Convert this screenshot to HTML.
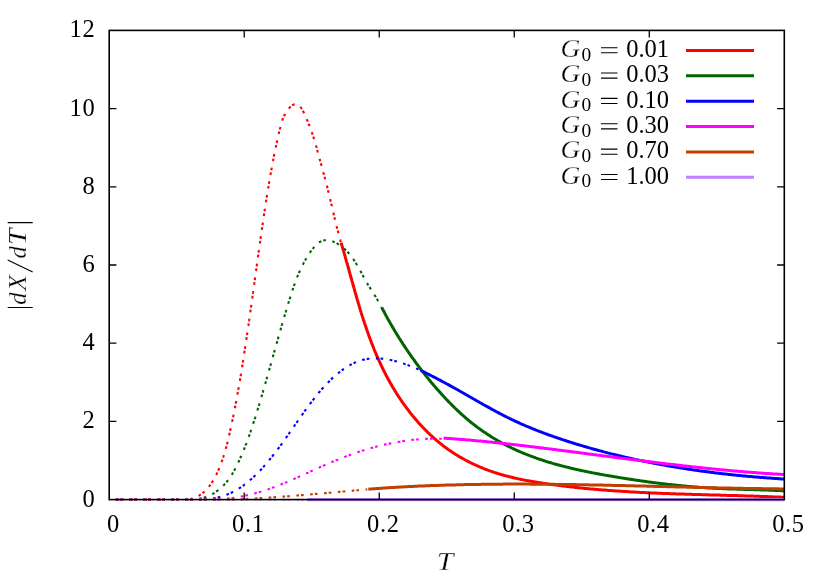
<!DOCTYPE html>
<html><head><meta charset="utf-8"><title>plot</title>
<style>html,body{margin:0;padding:0;background:#fff;}svg{display:block;will-change:transform;}text{font-family:"Liberation Serif",serif;fill:#000;}.it{stroke:#fff;stroke-width:0.28px;}</style></head><body>
<svg width="830" height="581" viewBox="0 0 830 581">
<rect x="0" y="0" width="830" height="581" fill="#ffffff"/>
<g fill="none" stroke-linejoin="round">
<path d="M109.2,499.6 L170.0,499.6 L189.9,499.2 L191.0,498.9 L192.0,498.6 L193.0,498.3 L194.0,498.0 L195.0,497.6 L195.9,497.2 L196.8,496.7 L197.7,496.3 L198.6,495.8 L199.5,495.3 L200.3,494.7 L201.1,494.2 L201.9,493.6 L202.7,493.0 L203.5,492.4 L204.2,491.7 L204.9,491.0 L205.6,490.4 L206.3,489.7 L207.0,488.9 L207.7,488.2 L208.3,487.4 L208.9,486.7 L209.5,485.9 L210.1,485.1 L210.7,484.3 L211.3,483.5 L211.8,482.6 L212.4,481.8 L212.9,480.9 L213.4,480.1 L213.9,479.2 L214.4,478.3 L214.9,477.4 L215.4,476.5 L215.8,475.6 L216.3,474.7 L216.7,473.8 L217.2,472.9 L217.6,472.0 L218.0,471.1 L218.4,470.1 L218.8,469.2 L219.2,468.3 L219.6,467.4 L219.9,466.4 L220.3,465.5 L220.7,464.6 L221.0,463.6 L221.4,462.7 L221.7,461.7 L222.1,460.8 L222.4,459.8 L222.7,458.9 L223.0,457.9 L223.3,457.0 L223.6,456.0 L223.9,455.1 L224.2,454.1 L224.5,453.2 L224.8,452.2 L225.1,451.2 L225.4,450.3 L225.6,449.3 L225.9,448.3 L226.2,447.4 L226.4,446.4 L226.7,445.4 L226.9,444.5 L227.2,443.5 L227.4,442.5 L227.7,441.5 L227.9,440.6 L228.1,439.6 L228.4,438.6 L228.6,437.6 L228.8,436.7 L229.1,435.7 L229.3,434.7 L229.5,433.7 L229.7,432.8 L230.0,431.8 L230.2,430.8 L230.4,429.8 L230.6,428.8 L230.8,427.9 L231.0,426.9 L231.2,425.9 L231.5,424.9 L231.7,423.9 L231.9,423.0 L232.1,422.0 L232.3,421.0 L232.5,420.0 L232.7,419.0 L232.9,418.1 L233.1,417.1 L233.3,416.1 L233.5,415.1 L233.7,414.1 L233.9,413.2 L234.1,412.2 L234.3,411.2 L234.5,410.2 L234.7,409.2 L234.9,408.2 L235.1,407.3 L235.3,406.3 L235.4,405.3 L235.6,404.3 L235.8,403.3 L236.0,402.3 L236.2,401.4 L236.4,400.4 L236.6,399.4 L236.7,398.4 L236.9,397.4 L237.1,396.4 L237.3,395.5 L237.5,394.5 L237.6,393.5 L237.8,392.5 L238.0,391.5 L238.2,390.5 L238.3,389.5 L238.5,388.6 L238.7,387.6 L238.9,386.6 L239.0,385.6 L239.2,384.6 L239.4,383.6 L239.5,382.6 L239.7,381.6 L239.9,380.7 L240.0,379.7 L240.2,378.7 L240.4,377.7 L240.5,376.7 L240.7,375.7 L240.9,374.7 L241.0,373.7 L241.2,372.8 L241.4,371.8 L241.5,370.8 L241.7,369.8 L241.8,368.8 L242.0,367.8 L242.2,366.8 L242.3,365.8 L242.5,364.8 L242.6,363.9 L242.8,362.9 L242.9,361.9 L243.1,360.9 L243.3,359.9 L243.4,358.9 L243.6,357.9 L243.7,356.9 L243.9,355.9 L244.0,354.9 L244.2,354.0 L244.3,353.0 L244.5,352.0 L244.6,351.0 L244.8,350.0 L244.9,349.0 L245.1,348.0 L245.2,347.0 L245.4,346.0 L245.5,345.0 L245.7,344.0 L245.8,343.1 L246.0,342.1 L246.1,341.1 L246.3,340.1 L246.4,339.1 L246.6,338.1 L246.7,337.1 L246.9,336.1 L247.0,335.1 L247.2,334.1 L247.3,333.1 L247.5,332.1 L247.6,331.2 L247.7,330.2 L247.9,329.2 L248.0,328.2 L248.2,327.2 L248.3,326.2 L248.5,325.2 L248.6,324.2 L248.7,323.2 L248.9,322.2 L249.0,321.2 L249.2,320.2 L249.3,319.2 L249.5,318.2 L249.6,317.3 L249.7,316.3 L249.9,315.3 L250.0,314.3 L250.2,313.3 L250.3,312.3 L250.4,311.3 L250.6,310.3 L250.7,309.3 L250.9,308.3 L251.0,307.3 L251.1,306.3 L251.3,305.3 L251.4,304.3 L251.6,303.4 L251.7,302.4 L251.8,301.4 L252.0,300.4 L252.1,299.4 L252.2,298.4 L252.4,297.4 L252.5,296.4 L252.7,295.4 L252.8,294.4 L252.9,293.4 L253.1,292.4 L253.2,291.4 L253.3,290.4 L253.5,289.4 L253.6,288.4 L253.8,287.5 L253.9,286.5 L254.0,285.5 L254.2,284.5 L254.3,283.5 L254.4,282.5 L254.6,281.5 L254.7,280.5 L254.9,279.5 L255.0,278.5 L255.1,277.5 L255.3,276.5 L255.4,275.5 L255.5,274.5 L255.7,273.5 L255.8,272.6 L255.9,271.6 L256.1,270.6 L256.2,269.6 L256.4,268.6 L256.5,267.6 L256.6,266.6 L256.8,265.6 L256.9,264.6 L257.0,263.6 L257.2,262.6 L257.3,261.6 L257.5,260.6 L257.6,259.6 L257.7,258.7 L257.9,257.7 L258.0,256.7 L258.1,255.7 L258.3,254.7 L258.4,253.7 L258.6,252.7 L258.7,251.7 L258.8,250.7 L259.0,249.7 L259.1,248.7 L259.3,247.7 L259.4,246.7 L259.5,245.8 L259.7,244.8 L259.8,243.8 L260.0,242.8 L260.1,241.8 L260.2,240.8 L260.4,239.8 L260.5,238.8 L260.7,237.8 L260.8,236.8 L260.9,235.8 L261.1,234.8 L261.2,233.9 L261.4,232.9 L261.5,231.9 L261.7,230.9 L261.8,229.9 L261.9,228.9 L262.1,227.9 L262.2,226.9 L262.4,225.9 L262.5,224.9 L262.7,224.0 L262.8,223.0 L263.0,222.0 L263.1,221.0 L263.2,220.0 L263.4,219.0 L263.5,218.0 L263.7,217.0 L263.8,216.0 L264.0,215.0 L264.1,214.1 L264.3,213.1 L264.4,212.1 L264.6,211.1 L264.7,210.1 L264.9,209.1 L265.0,208.1 L265.2,207.1 L265.3,206.1 L265.5,205.2 L265.6,204.2 L265.8,203.2 L265.9,202.2 L266.1,201.2 L266.2,200.2 L266.4,199.2 L266.6,198.2 L266.7,197.3 L266.9,196.3 L267.0,195.3 L267.2,194.3 L267.3,193.3 L267.5,192.3 L267.7,191.3 L267.8,190.3 L268.0,189.4 L268.2,188.4 L268.3,187.4 L268.5,186.4 L268.6,185.4 L268.8,184.4 L269.0,183.4 L269.1,182.5 L269.3,181.5 L269.5,180.5 L269.6,179.5 L269.8,178.5 L270.0,177.5 L270.2,176.5 L270.3,175.5 L270.5,174.6 L270.7,173.6 L270.9,172.6 L271.0,171.6 L271.2,170.6 L271.4,169.6 L271.6,168.6 L271.8,167.7 L271.9,166.7 L272.1,165.7 L272.3,164.7 L272.5,163.7 L272.7,162.7 L272.9,161.7 L273.1,160.7 L273.2,159.8 L273.4,158.8 L273.6,157.8 L273.8,156.8 L274.0,155.8 L274.2,154.8 L274.4,153.8 L274.6,152.9 L274.8,151.9 L275.0,150.9 L275.2,149.9 L275.4,148.9 L275.6,147.9 L275.8,146.9 L276.0,145.9 L276.2,145.0 L276.5,144.0 L276.7,143.0 L276.9,142.0 L277.1,141.0 L277.3,140.0 L277.5,139.0 L277.8,138.0 L278.0,137.0 L278.2,136.1 L278.4,135.1 L278.6,134.1 L278.9,133.1 L279.1,132.1 L279.3,131.1 L279.6,130.1 L279.8,129.1 L280.0,128.2 L280.3,127.2 L280.5,126.2 L280.8,125.2 L281.1,124.2 L281.4,123.3 L281.7,122.3 L282.0,121.4 L282.3,120.4 L282.6,119.5 L283.0,118.5 L283.4,117.6 L283.8,116.7 L284.2,115.8 L284.6,114.9 L285.1,114.0 L285.5,113.1 L286.0,112.3 L286.6,111.4 L287.1,110.6 L287.7,109.8 L288.3,109.0 L289.0,108.2 L289.7,107.5 L290.4,106.7 L291.1,106.1 L291.9,105.5 L292.7,105.0 L293.5,104.6 L294.3,104.4 L295.1,104.3 L295.9,104.3 L296.7,104.5 L297.5,104.7 L298.3,105.1 L299.0,105.6 L299.7,106.2 L300.3,106.9 L301.0,107.7 L301.5,108.5 L302.1,109.4 L302.6,110.4 L303.1,111.3 L303.6,112.3 L304.1,113.3 L304.6,114.3 L305.1,115.3 L305.5,116.3 L306.0,117.3 L306.4,118.3 L306.8,119.2 L307.2,120.2 L307.7,121.2 L308.1,122.2 L308.4,123.1 L308.8,124.1 L309.2,125.0 L309.6,126.0 L309.9,127.0 L310.3,127.9 L310.6,128.9 L311.0,129.8 L311.3,130.8 L311.7,131.7 L312.0,132.7 L312.3,133.6 L312.6,134.6 L312.9,135.5 L313.2,136.4 L313.5,137.4 L313.8,138.3 L314.1,139.3 L314.4,140.2 L314.7,141.1 L315.0,142.1 L315.2,143.0 L315.5,144.0 L315.8,144.9 L316.1,145.8 L316.3,146.8 L316.6,147.7 L316.9,148.7 L317.1,149.6 L317.4,150.5 L317.6,151.5 L317.9,152.4 L318.2,153.4 L318.4,154.3 L318.7,155.3 L318.9,156.2 L319.2,157.2 L319.5,158.2 L319.7,159.1 L320.0,160.1 L320.2,161.0 L320.5,162.0 L320.8,163.0 L321.0,163.9 L321.3,164.9 L321.6,165.9 L321.8,166.8 L322.1,167.8 L322.4,168.8 L322.6,169.8 L322.9,170.8 L323.2,171.7 L323.4,172.7 L323.7,173.7 L324.0,174.7 L324.2,175.6 L324.5,176.6 L324.8,177.6 L325.0,178.6 L325.3,179.6 L325.5,180.6 L325.8,181.5 L326.1,182.5 L326.3,183.5 L326.6,184.5 L326.8,185.5 L327.1,186.4 L327.3,187.4 L327.5,188.4 L327.8,189.4 L328.0,190.3 L328.3,191.3 L328.5,192.3 L328.7,193.3 L329.0,194.3 L329.2,195.2 L329.5,196.2 L329.7,197.2 L329.9,198.1 L330.2,199.1 L330.4,200.1 L330.6,201.1 L330.8,202.0 L331.1,203.0 L331.3,204.0 L331.5,204.9 L331.8,205.9 L332.0,206.9 L332.2,207.9 L332.4,208.8 L332.7,209.8 L332.9,210.8 L333.1,211.7 L333.4,212.7 L333.6,213.7 L333.8,214.6 L334.0,215.6 L334.3,216.6 L334.5,217.5 L334.7,218.5 L335.0,219.5 L335.2,220.5 L335.4,221.4 L335.7,222.4 L335.9,223.4 L336.2,224.3 L336.4,225.3 L336.6,226.3 L336.9,227.2 L337.1,228.2 L337.4,229.2 L337.6,230.2 L337.9,231.1 L338.1,232.1 L338.4,233.1 L338.6,234.0 L338.9,235.0 L339.2,236.0 L339.4,237.0 L339.7,237.9 L340.0,238.9 L340.2,239.9 L340.5,240.9 L340.8,241.8 L341.1,242.8" stroke="#ff0000" stroke-width="2.1" stroke-dasharray="2.7 2.0 2.7 6.5" stroke-dashoffset="7.3"/>
<path d="M341.1,242.8 L341.4,243.7 L341.7,244.7 L342.0,245.7 L342.3,246.6 L342.6,247.6 L342.8,248.5 L343.1,249.5 L343.4,250.5 L343.7,251.4 L344.0,252.4 L344.2,253.4 L344.5,254.3 L344.8,255.3 L345.1,256.3 L345.3,257.2 L345.6,258.2 L345.9,259.2 L346.2,260.1 L346.4,261.1 L346.7,262.1 L347.0,263.0 L347.3,264.0 L347.5,264.9 L347.8,265.9 L348.1,266.9 L348.3,267.8 L348.6,268.8 L348.9,269.8 L349.1,270.7 L349.4,271.7 L349.7,272.7 L349.9,273.6 L350.2,274.6 L350.5,275.6 L350.7,276.5 L351.0,277.5 L351.3,278.5 L351.6,279.4 L351.8,280.4 L352.1,281.4 L352.4,282.3 L352.6,283.3 L352.9,284.3 L353.2,285.2 L353.4,286.2 L353.7,287.1 L354.0,288.1 L354.3,289.1 L354.5,290.0 L354.8,291.0 L355.1,292.0 L355.4,292.9 L355.6,293.9 L355.9,294.8 L356.2,295.8 L356.5,296.8 L356.7,297.7 L357.0,298.7 L357.3,299.7 L357.6,300.6 L357.9,301.6 L358.1,302.5 L358.4,303.5 L358.7,304.4 L359.0,305.4 L359.3,306.4 L359.6,307.3 L359.9,308.3 L360.1,309.2 L360.4,310.2 L360.7,311.1 L361.0,312.1 L361.3,313.1 L361.6,314.0 L361.9,315.0 L362.2,315.9 L362.5,316.9 L362.8,317.8 L363.1,318.8 L363.4,319.7 L363.7,320.7 L364.1,321.6 L364.4,322.6 L364.7,323.5 L365.0,324.5 L365.3,325.4 L365.6,326.4 L366.0,327.3 L366.3,328.2 L366.6,329.2 L366.9,330.1 L367.3,331.1 L367.6,332.0 L367.9,333.0 L368.3,333.9 L368.6,334.8 L368.9,335.8 L369.3,336.7 L369.6,337.7 L370.0,338.6 L370.3,339.5 L370.7,340.5 L371.0,341.4 L371.4,342.3 L371.7,343.3 L372.1,344.2 L372.5,345.1 L372.8,346.1 L373.2,347.0 L373.6,347.9 L373.9,348.8 L374.3,349.8 L374.7,350.7 L375.1,351.6 L375.5,352.5 L375.9,353.5 L376.2,354.4 L376.6,355.3 L377.0,356.2 L377.4,357.1 L377.8,358.1 L378.3,359.0 L378.7,359.9 L379.1,360.8 L379.5,361.7 L379.9,362.6 L380.3,363.5 L380.8,364.5 L381.2,365.4 L381.6,366.3 L382.1,367.2 L382.5,368.1 L382.9,369.0 L383.4,369.9 L383.8,370.8 L384.3,371.7 L384.8,372.6 L385.2,373.5 L385.7,374.4 L386.1,375.3 L386.6,376.2 L387.1,377.1 L387.6,378.0 L388.0,378.8 L388.5,379.7 L389.0,380.6 L389.5,381.5 L390.0,382.4 L390.5,383.3 L391.0,384.1 L391.5,385.0 L392.0,385.9 L392.5,386.8 L393.0,387.6 L393.6,388.5 L394.1,389.4 L394.6,390.2 L395.1,391.1 L395.7,392.0 L396.2,392.8 L396.8,393.7 L397.3,394.5 L397.8,395.4 L398.4,396.2 L398.9,397.1 L399.5,397.9 L400.1,398.7 L400.6,399.6 L401.2,400.4 L401.8,401.3 L402.3,402.1 L402.9,402.9 L403.5,403.7 L404.1,404.6 L404.7,405.4 L405.3,406.2 L405.9,407.0 L406.5,407.8 L407.1,408.6 L407.7,409.4 L408.3,410.2 L408.9,411.0 L409.5,411.8 L410.1,412.6 L410.7,413.4 L411.4,414.2 L412.0,415.0 L412.6,415.8 L413.3,416.6 L413.9,417.3 L414.6,418.1 L415.2,418.9 L415.9,419.6 L416.5,420.4 L417.2,421.1 L417.8,421.9 L418.5,422.6 L419.2,423.4 L419.8,424.1 L420.5,424.9 L421.2,425.6 L421.9,426.3 L422.6,427.1 L423.3,427.8 L424.0,428.5 L424.6,429.2 L425.4,429.9 L426.1,430.7 L426.8,431.4 L427.5,432.1 L428.2,432.8 L428.9,433.4 L429.6,434.1 L430.4,434.8 L431.1,435.5 L431.8,436.2 L432.6,436.8 L433.3,437.5 L434.0,438.2 L434.8,438.8 L435.5,439.5 L436.3,440.1 L437.1,440.8 L437.8,441.4 L438.6,442.1 L439.3,442.7 L440.1,443.3 L440.9,443.9 L441.7,444.5 L442.5,445.2 L443.2,445.8 L444.0,446.4 L444.8,447.0 L445.6,447.6 L446.4,448.1 L447.2,448.7 L448.0,449.3 L448.9,449.9 L449.7,450.4 L450.5,451.0 L451.3,451.6 L452.1,452.1 L453.0,452.7 L453.8,453.2 L454.6,453.7 L455.5,454.3 L456.3,454.8 L457.2,455.3 L458.0,455.8 L458.9,456.4 L459.7,456.9 L460.6,457.4 L461.5,457.9 L462.3,458.3 L463.2,458.8 L464.1,459.3 L464.9,459.8 L465.8,460.3 L466.7,460.7 L467.6,461.2 L468.5,461.6 L469.4,462.1 L470.2,462.5 L471.1,463.0 L472.0,463.4 L472.9,463.8 L473.8,464.3 L474.8,464.7 L475.7,465.1 L476.6,465.5 L477.5,465.9 L478.4,466.3 L479.3,466.7 L480.2,467.1 L481.2,467.5 L482.1,467.9 L483.0,468.2 L483.9,468.6 L484.9,469.0 L485.8,469.3 L486.7,469.7 L487.7,470.1 L488.6,470.4 L489.6,470.7 L490.5,471.1 L491.4,471.4 L492.4,471.7 L493.3,472.1 L494.3,472.4 L495.2,472.7 L496.2,473.0 L497.1,473.3 L498.1,473.6 L499.1,473.9 L500.0,474.2 L501.0,474.5 L501.9,474.7 L502.9,475.0 L503.9,475.3 L504.8,475.6 L505.8,475.8 L506.8,476.1 L507.7,476.3 L508.7,476.6 L509.7,476.8 L510.7,477.1 L511.6,477.3 L512.6,477.5 L513.6,477.8 L514.6,478.0 L515.6,478.2 L516.5,478.4 L517.5,478.6 L518.5,478.9 L519.5,479.1 L520.5,479.3 L521.4,479.5 L522.4,479.7 L523.4,479.9 L524.4,480.1 L525.4,480.3 L526.4,480.4 L527.4,480.6 L528.4,480.8 L529.4,481.0 L530.3,481.2 L531.3,481.3 L532.3,481.5 L533.3,481.7 L534.3,481.8 L535.3,482.0 L536.3,482.2 L537.3,482.3 L538.3,482.5 L539.3,482.7 L540.3,482.8 L541.3,483.0 L542.3,483.1 L543.3,483.3 L544.3,483.4 L545.3,483.6 L546.3,483.7 L547.2,483.9 L548.2,484.0 L549.2,484.1 L550.2,484.3 L551.2,484.4 L552.2,484.6 L553.2,484.7 L554.2,484.8 L555.2,485.0 L556.2,485.1 L557.2,485.2 L558.2,485.4 L559.2,485.5 L560.2,485.6 L561.2,485.7 L562.2,485.9 L563.2,486.0 L564.2,486.1 L565.2,486.2 L566.2,486.3 L567.2,486.5 L568.2,486.6 L569.2,486.7 L570.2,486.8 L571.2,486.9 L572.2,487.0 L573.2,487.1 L574.2,487.3 L575.2,487.4 L576.2,487.5 L577.1,487.6 L578.1,487.7 L579.1,487.8 L580.1,487.9 L581.1,488.0 L582.1,488.1 L583.1,488.2 L584.1,488.3 L585.1,488.4 L586.1,488.5 L587.1,488.6 L588.1,488.7 L589.1,488.8 L590.1,488.9 L591.1,489.0 L592.1,489.1 L593.1,489.1 L594.1,489.2 L595.1,489.3 L596.1,489.4 L597.1,489.5 L598.1,489.6 L599.1,489.7 L600.1,489.7 L601.1,489.8 L602.1,489.9 L603.1,490.0 L604.1,490.1 L605.1,490.1 L606.1,490.2 L607.1,490.3 L608.1,490.4 L609.1,490.4 L610.1,490.5 L611.1,490.6 L612.1,490.7 L613.1,490.7 L614.1,490.8 L615.1,490.9 L616.1,490.9 L617.1,491.0 L618.1,491.1 L619.1,491.1 L620.1,491.2 L621.1,491.3 L622.1,491.3 L623.1,491.4 L624.1,491.5 L625.1,491.5 L626.1,491.6 L627.1,491.6 L628.1,491.7 L629.1,491.8 L630.1,491.8 L631.1,491.9 L632.1,491.9 L633.1,492.0 L634.1,492.1 L635.1,492.1 L636.1,492.2 L637.1,492.2 L638.1,492.3 L639.1,492.3 L640.1,492.4 L641.1,492.4 L642.1,492.5 L643.1,492.5 L644.1,492.6 L645.1,492.6 L646.1,492.7 L647.1,492.7 L648.1,492.8 L649.1,492.8 L650.1,492.9 L651.1,492.9 L652.1,492.9 L653.1,493.0 L654.1,493.0 L655.1,493.1 L656.1,493.1 L657.1,493.2 L658.1,493.2 L659.1,493.2 L660.1,493.3 L661.1,493.3 L662.1,493.4 L663.1,493.4 L664.1,493.4 L665.1,493.5 L666.1,493.5 L667.1,493.5 L668.1,493.6 L669.1,493.6 L670.1,493.7 L671.1,493.7 L672.1,493.7 L673.1,493.8 L674.1,493.8 L675.1,493.8 L676.1,493.9 L677.1,493.9 L678.1,493.9 L679.1,494.0 L680.1,494.0 L681.1,494.0 L682.1,494.1 L683.1,494.1 L684.1,494.1 L685.1,494.2 L686.1,494.2 L687.1,494.2 L688.1,494.3 L689.1,494.3 L690.1,494.3 L691.1,494.3 L692.1,494.4 L693.1,494.4 L694.1,494.4 L695.1,494.5 L696.1,494.5 L697.1,494.5 L698.1,494.6 L699.1,494.6 L700.1,494.6 L701.1,494.6 L702.1,494.7 L703.1,494.7 L704.1,494.7 L705.1,494.8 L706.1,494.8 L707.1,494.8 L708.1,494.8 L709.1,494.9 L710.1,494.9 L711.1,494.9 L712.1,494.9 L713.2,495.0 L714.2,495.0 L715.2,495.0 L716.2,495.1 L717.2,495.1 L718.2,495.1 L719.2,495.1 L720.2,495.2 L721.2,495.2 L722.2,495.2 L723.2,495.2 L724.2,495.3 L725.2,495.3 L726.2,495.3 L727.2,495.4 L728.2,495.4 L729.2,495.4 L730.2,495.4 L731.2,495.5 L732.2,495.5 L733.2,495.5 L734.2,495.6 L735.2,495.6 L736.2,495.6 L737.2,495.6 L738.2,495.7 L739.2,495.7 L740.2,495.7 L741.2,495.8 L742.2,495.8 L743.2,495.8 L744.2,495.8 L745.2,495.9 L746.2,495.9 L747.2,495.9 L748.2,496.0 L749.2,496.0 L750.2,496.0 L751.2,496.1 L752.2,496.1 L753.2,496.1 L754.2,496.2 L755.2,496.2 L756.2,496.2 L757.2,496.3 L758.2,496.3 L759.2,496.3 L760.2,496.4 L761.2,496.4 L762.2,496.4 L763.3,496.5 L764.3,496.5 L765.3,496.5 L766.3,496.6 L767.3,496.6 L768.3,496.7 L769.3,496.7 L770.3,496.7 L771.3,496.8 L772.3,496.8 L773.3,496.9 L774.3,496.9 L775.3,496.9 L776.3,497.0 L777.3,497.0 L778.3,497.1 L779.3,497.1 L780.3,497.1 L781.3,497.2 L782.3,497.2 L783.3,497.3 L784.3,497.3" stroke="#ff0000" stroke-width="3.0" stroke-linecap="butt"/>
<path d="M109.2,499.6 L175.0,499.6 L195.0,499.2 L196.0,499.1 L197.0,499.0 L198.0,498.9 L199.0,498.7 L200.0,498.6 L201.0,498.4 L202.0,498.1 L203.0,497.9 L204.0,497.6 L204.9,497.3 L205.9,497.0 L206.8,496.6 L207.8,496.3 L208.7,495.9 L209.6,495.5 L210.5,495.0 L211.4,494.6 L212.3,494.1 L213.1,493.6 L214.0,493.1 L214.8,492.6 L215.7,492.0 L216.5,491.4 L217.3,490.8 L218.1,490.2 L218.9,489.6 L219.7,489.0 L220.4,488.3 L221.2,487.7 L221.9,487.0 L222.6,486.3 L223.3,485.6 L224.0,484.9 L224.7,484.1 L225.4,483.4 L226.0,482.6 L226.7,481.9 L227.3,481.1 L227.9,480.3 L228.5,479.5 L229.1,478.7 L229.7,477.9 L230.2,477.1 L230.8,476.2 L231.3,475.4 L231.9,474.6 L232.4,473.7 L232.9,472.8 L233.4,472.0 L233.9,471.1 L234.4,470.2 L234.9,469.3 L235.4,468.5 L235.8,467.6 L236.3,466.7 L236.7,465.8 L237.2,464.9 L237.6,463.9 L238.0,463.0 L238.5,462.1 L238.9,461.2 L239.3,460.3 L239.7,459.4 L240.1,458.4 L240.5,457.5 L241.0,456.6 L241.4,455.7 L241.7,454.7 L242.1,453.8 L242.5,452.9 L242.9,452.0 L243.3,451.0 L243.7,450.1 L244.1,449.2 L244.4,448.2 L244.8,447.3 L245.2,446.4 L245.5,445.4 L245.9,444.5 L246.3,443.6 L246.6,442.6 L247.0,441.7 L247.3,440.7 L247.7,439.8 L248.0,438.9 L248.4,437.9 L248.7,437.0 L249.0,436.0 L249.4,435.1 L249.7,434.1 L250.0,433.2 L250.4,432.2 L250.7,431.3 L251.0,430.3 L251.3,429.4 L251.7,428.4 L252.0,427.5 L252.3,426.5 L252.6,425.6 L252.9,424.6 L253.2,423.7 L253.5,422.7 L253.8,421.8 L254.2,420.8 L254.5,419.9 L254.8,418.9 L255.1,418.0 L255.4,417.0 L255.7,416.1 L256.0,415.1 L256.3,414.1 L256.6,413.2 L256.9,412.2 L257.1,411.3 L257.4,410.3 L257.7,409.4 L258.0,408.4 L258.3,407.4 L258.6,406.5 L258.9,405.5 L259.2,404.6 L259.5,403.6 L259.8,402.6 L260.0,401.7 L260.3,400.7 L260.6,399.8 L260.9,398.8 L261.2,397.8 L261.5,396.9 L261.7,395.9 L262.0,395.0 L262.3,394.0 L262.6,393.0 L262.9,392.1 L263.1,391.1 L263.4,390.1 L263.7,389.2 L264.0,388.2 L264.3,387.3 L264.5,386.3 L264.8,385.3 L265.1,384.4 L265.4,383.4 L265.6,382.4 L265.9,381.5 L266.2,380.5 L266.5,379.6 L266.7,378.6 L267.0,377.6 L267.3,376.7 L267.6,375.7 L267.8,374.7 L268.1,373.8 L268.4,372.8 L268.7,371.8 L268.9,370.9 L269.2,369.9 L269.5,368.9 L269.7,368.0 L270.0,367.0 L270.3,366.0 L270.6,365.1 L270.8,364.1 L271.1,363.2 L271.4,362.2 L271.6,361.2 L271.9,360.3 L272.2,359.3 L272.5,358.3 L272.7,357.4 L273.0,356.4 L273.3,355.4 L273.5,354.5 L273.8,353.5 L274.1,352.5 L274.4,351.6 L274.6,350.6 L274.9,349.6 L275.2,348.7 L275.4,347.7 L275.7,346.7 L276.0,345.8 L276.3,344.8 L276.5,343.8 L276.8,342.9 L277.1,341.9 L277.3,341.0 L277.6,340.0 L277.9,339.0 L278.2,338.1 L278.4,337.1 L278.7,336.1 L279.0,335.2 L279.3,334.2 L279.5,333.2 L279.8,332.3 L280.1,331.3 L280.4,330.3 L280.6,329.4 L280.9,328.4 L281.2,327.4 L281.5,326.5 L281.7,325.5 L282.0,324.6 L282.3,323.6 L282.6,322.6 L282.9,321.7 L283.1,320.7 L283.4,319.7 L283.7,318.8 L284.0,317.8 L284.3,316.9 L284.6,315.9 L284.8,314.9 L285.1,314.0 L285.4,313.0 L285.7,312.0 L286.0,311.1 L286.3,310.1 L286.6,309.2 L286.8,308.2 L287.1,307.2 L287.4,306.3 L287.7,305.3 L288.0,304.4 L288.3,303.4 L288.6,302.4 L288.9,301.5 L289.2,300.5 L289.5,299.6 L289.8,298.6 L290.1,297.6 L290.4,296.7 L290.7,295.7 L291.0,294.8 L291.3,293.8 L291.6,292.9 L291.9,291.9 L292.2,290.9 L292.5,290.0 L292.8,289.0 L293.2,288.1 L293.5,287.1 L293.8,286.2 L294.1,285.3 L294.5,284.3 L294.8,283.4 L295.2,282.4 L295.5,281.5 L295.9,280.5 L296.2,279.6 L296.6,278.7 L296.9,277.7 L297.3,276.8 L297.7,275.9 L298.1,274.9 L298.5,274.0 L298.9,273.1 L299.3,272.2 L299.7,271.3 L300.1,270.3 L300.5,269.4 L300.9,268.5 L301.4,267.6 L301.8,266.7 L302.2,265.8 L302.7,264.9 L303.2,264.0 L303.6,263.1 L304.1,262.2 L304.6,261.3 L305.1,260.4 L305.6,259.5 L306.1,258.7 L306.6,257.8 L307.2,256.9 L307.7,256.0 L308.3,255.2 L308.8,254.3 L309.4,253.5 L310.0,252.6 L310.5,251.7 L311.1,250.9 L311.8,250.1 L312.4,249.2 L313.0,248.4 L313.7,247.6 L314.3,246.8 L315.0,246.0 L315.7,245.3 L316.4,244.6 L317.1,243.9 L317.9,243.3 L318.6,242.8 L319.4,242.2 L320.2,241.8 L321.0,241.4 L321.9,241.0 L322.8,240.7 L323.6,240.5 L324.5,240.3 L325.4,240.2 L326.3,240.2 L327.3,240.2 L328.2,240.3 L329.1,240.5 L330.1,240.7 L331.0,240.9 L332.0,241.2 L332.9,241.5 L333.8,241.9 L334.8,242.3 L335.7,242.7 L336.6,243.2 L337.5,243.7 L338.4,244.3 L339.3,244.8 L340.1,245.4 L340.9,246.0 L341.8,246.6 L342.6,247.2 L343.3,247.9 L344.1,248.5 L344.9,249.2 L345.6,249.9 L346.3,250.6 L347.0,251.3 L347.7,252.0 L348.4,252.8 L349.0,253.5 L349.7,254.3 L350.3,255.1 L350.9,255.9 L351.5,256.7 L352.1,257.5 L352.7,258.3 L353.3,259.1 L353.9,260.0 L354.4,260.8 L355.0,261.7 L355.5,262.5 L356.1,263.4 L356.6,264.3 L357.1,265.1 L357.7,266.0 L358.2,266.9 L358.7,267.8 L359.2,268.7 L359.7,269.6 L360.2,270.5 L360.7,271.4 L361.2,272.3 L361.6,273.2 L362.1,274.1 L362.6,275.0 L363.1,275.9 L363.6,276.8 L364.1,277.6 L364.6,278.5 L365.0,279.4 L365.5,280.3 L366.0,281.2 L366.5,282.1 L367.0,282.9 L367.5,283.8 L368.0,284.7 L368.5,285.5 L369.0,286.4 L369.5,287.2 L370.1,288.0 L370.6,288.9 L371.1,289.7 L371.6,290.5 L372.2,291.3 L372.7,292.2 L373.2,293.0 L373.8,293.8 L374.3,294.6 L374.8,295.5 L375.4,296.3 L375.9,297.1 L376.4,298.0 L376.9,298.8 L377.4,299.7 L377.9,300.5 L378.4,301.4 L378.9,302.3 L379.4,303.2 L379.9,304.1 L380.4,305.0 L380.8,305.9 L381.3,306.8 L381.7,307.8" stroke="#006400" stroke-width="2.1" stroke-dasharray="2.7 2.0 2.7 6.5" stroke-dashoffset="7.3"/>
<path d="M381.9,307.7 L382.3,308.6 L382.8,309.5 L383.2,310.3 L383.7,311.2 L384.2,312.1 L384.7,313.0 L385.1,313.9 L385.6,314.8 L386.1,315.7 L386.6,316.5 L387.0,317.4 L387.5,318.3 L388.0,319.2 L388.5,320.0 L389.0,320.9 L389.5,321.8 L390.0,322.7 L390.5,323.5 L391.0,324.4 L391.5,325.3 L392.0,326.1 L392.5,327.0 L393.0,327.9 L393.5,328.7 L394.0,329.6 L394.5,330.5 L395.0,331.3 L395.6,332.2 L396.1,333.0 L396.6,333.9 L397.1,334.7 L397.7,335.6 L398.2,336.4 L398.7,337.3 L399.2,338.1 L399.8,339.0 L400.3,339.8 L400.8,340.7 L401.4,341.5 L401.9,342.4 L402.5,343.2 L403.0,344.1 L403.6,344.9 L404.1,345.7 L404.7,346.6 L405.2,347.4 L405.8,348.2 L406.3,349.1 L406.9,349.9 L407.5,350.7 L408.0,351.5 L408.6,352.4 L409.1,353.2 L409.7,354.0 L410.3,354.8 L410.9,355.7 L411.4,356.5 L412.0,357.3 L412.6,358.1 L413.2,358.9 L413.8,359.7 L414.4,360.5 L414.9,361.4 L415.5,362.2 L416.1,363.0 L416.7,363.8 L417.3,364.6 L417.9,365.4 L418.5,366.2 L419.1,367.0 L419.7,367.8 L420.3,368.6 L420.9,369.4 L421.5,370.2 L422.2,371.0 L422.8,371.8 L423.4,372.5 L424.0,373.3 L424.6,374.1 L425.2,374.9 L425.9,375.7 L426.5,376.5 L427.1,377.2 L427.8,378.0 L428.4,378.8 L429.0,379.6 L429.7,380.4 L430.3,381.1 L430.9,381.9 L431.6,382.7 L432.2,383.4 L432.9,384.2 L433.5,385.0 L434.2,385.7 L434.8,386.5 L435.5,387.3 L436.1,388.0 L436.8,388.8 L437.5,389.5 L438.1,390.3 L438.8,391.0 L439.5,391.8 L440.1,392.5 L440.8,393.3 L441.5,394.0 L442.1,394.8 L442.8,395.5 L443.5,396.3 L444.2,397.0 L444.9,397.7 L445.6,398.5 L446.2,399.2 L446.9,399.9 L447.6,400.6 L448.3,401.4 L449.0,402.1 L449.7,402.8 L450.4,403.5 L451.1,404.2 L451.8,405.0 L452.6,405.7 L453.3,406.4 L454.0,407.1 L454.7,407.8 L455.4,408.5 L456.1,409.2 L456.9,409.9 L457.6,410.6 L458.3,411.3 L459.1,411.9 L459.8,412.6 L460.5,413.3 L461.3,414.0 L462.0,414.6 L462.8,415.3 L463.5,416.0 L464.3,416.6 L465.0,417.3 L465.8,418.0 L466.6,418.6 L467.3,419.3 L468.1,419.9 L468.9,420.6 L469.6,421.2 L470.4,421.8 L471.2,422.5 L472.0,423.1 L472.8,423.7 L473.6,424.3 L474.3,424.9 L475.1,425.5 L475.9,426.2 L476.7,426.8 L477.5,427.4 L478.3,428.0 L479.2,428.5 L480.0,429.1 L480.8,429.7 L481.6,430.3 L482.4,430.9 L483.2,431.4 L484.1,432.0 L484.9,432.6 L485.7,433.1 L486.6,433.7 L487.4,434.2 L488.2,434.8 L489.1,435.3 L489.9,435.9 L490.8,436.4 L491.6,436.9 L492.5,437.5 L493.3,438.0 L494.2,438.5 L495.0,439.0 L495.9,439.5 L496.8,440.0 L497.6,440.5 L498.5,441.0 L499.4,441.5 L500.2,442.0 L501.1,442.5 L502.0,443.0 L502.8,443.5 L503.7,443.9 L504.6,444.4 L505.5,444.9 L506.4,445.3 L507.3,445.8 L508.2,446.2 L509.0,446.7 L509.9,447.1 L510.8,447.5 L511.7,448.0 L512.6,448.4 L513.5,448.8 L514.4,449.2 L515.3,449.7 L516.2,450.1 L517.2,450.5 L518.1,450.9 L519.0,451.3 L519.9,451.7 L520.8,452.1 L521.7,452.5 L522.6,452.9 L523.6,453.2 L524.5,453.6 L525.4,454.0 L526.3,454.4 L527.3,454.7 L528.2,455.1 L529.1,455.4 L530.1,455.8 L531.0,456.2 L531.9,456.5 L532.9,456.9 L533.8,457.2 L534.7,457.5 L535.7,457.9 L536.6,458.2 L537.6,458.5 L538.5,458.9 L539.5,459.2 L540.4,459.5 L541.3,459.8 L542.3,460.1 L543.2,460.5 L544.2,460.8 L545.2,461.1 L546.1,461.4 L547.1,461.7 L548.0,462.0 L549.0,462.3 L549.9,462.5 L550.9,462.8 L551.9,463.1 L552.8,463.4 L553.8,463.7 L554.8,464.0 L555.7,464.2 L556.7,464.5 L557.7,464.8 L558.6,465.0 L559.6,465.3 L560.6,465.6 L561.5,465.8 L562.5,466.1 L563.5,466.3 L564.5,466.6 L565.4,466.8 L566.4,467.1 L567.4,467.3 L568.4,467.5 L569.3,467.8 L570.3,468.0 L571.3,468.3 L572.3,468.5 L573.3,468.7 L574.2,468.9 L575.2,469.2 L576.2,469.4 L577.2,469.6 L578.2,469.8 L579.2,470.1 L580.1,470.3 L581.1,470.5 L582.1,470.7 L583.1,470.9 L584.1,471.1 L585.1,471.3 L586.1,471.5 L587.1,471.7 L588.0,471.9 L589.0,472.1 L590.0,472.3 L591.0,472.5 L592.0,472.7 L593.0,472.9 L594.0,473.1 L595.0,473.3 L596.0,473.5 L597.0,473.7 L598.0,473.8 L598.9,474.0 L599.9,474.2 L600.9,474.4 L601.9,474.6 L602.9,474.7 L603.9,474.9 L604.9,475.1 L605.9,475.3 L606.9,475.4 L607.9,475.6 L608.9,475.8 L609.9,476.0 L610.9,476.1 L611.9,476.3 L612.9,476.5 L613.8,476.6 L614.8,476.8 L615.8,477.0 L616.8,477.1 L617.8,477.3 L618.8,477.4 L619.8,477.6 L620.8,477.8 L621.8,477.9 L622.8,478.1 L623.8,478.2 L624.8,478.4 L625.7,478.5 L626.7,478.7 L627.7,478.9 L628.7,479.0 L629.7,479.2 L630.7,479.3 L631.7,479.5 L632.7,479.6 L633.7,479.8 L634.7,479.9 L635.7,480.1 L636.6,480.2 L637.6,480.4 L638.6,480.5 L639.6,480.6 L640.6,480.8 L641.6,480.9 L642.6,481.1 L643.6,481.2 L644.6,481.3 L645.5,481.5 L646.5,481.6 L647.5,481.8 L648.5,481.9 L649.5,482.0 L650.5,482.2 L651.5,482.3 L652.5,482.4 L653.5,482.6 L654.4,482.7 L655.4,482.8 L656.4,482.9 L657.4,483.1 L658.4,483.2 L659.4,483.3 L660.4,483.4 L661.4,483.6 L662.4,483.7 L663.3,483.8 L664.3,483.9 L665.3,484.0 L666.3,484.1 L667.3,484.3 L668.3,484.4 L669.3,484.5 L670.3,484.6 L671.3,484.7 L672.3,484.8 L673.2,484.9 L674.2,485.0 L675.2,485.1 L676.2,485.2 L677.2,485.3 L678.2,485.4 L679.2,485.5 L680.2,485.6 L681.2,485.7 L682.2,485.8 L683.2,485.9 L684.2,486.0 L685.1,486.1 L686.1,486.2 L687.1,486.3 L688.1,486.4 L689.1,486.5 L690.1,486.6 L691.1,486.7 L692.1,486.7 L693.1,486.8 L694.1,486.9 L695.1,487.0 L696.1,487.1 L697.1,487.1 L698.1,487.2 L699.1,487.3 L700.1,487.4 L701.1,487.4 L702.1,487.5 L703.1,487.6 L704.1,487.6 L705.1,487.7 L706.1,487.8 L707.1,487.8 L708.1,487.9 L709.1,488.0 L710.1,488.0 L711.1,488.1 L712.1,488.1 L713.1,488.2 L714.1,488.2 L715.1,488.3 L716.1,488.3 L717.1,488.4 L718.1,488.4 L719.1,488.5 L720.1,488.5 L721.1,488.6 L722.1,488.6 L723.1,488.7 L724.1,488.7 L725.1,488.7 L726.1,488.8 L727.1,488.8 L728.1,488.9 L729.1,488.9 L730.2,488.9 L731.2,489.0 L732.2,489.0 L733.2,489.0 L734.2,489.1 L735.2,489.1 L736.2,489.1 L737.2,489.2 L738.2,489.2 L739.2,489.2 L740.2,489.2 L741.2,489.3 L742.2,489.3 L743.2,489.3 L744.3,489.4 L745.3,489.4 L746.3,489.4 L747.3,489.5 L748.3,489.5 L749.3,489.5 L750.3,489.5 L751.3,489.6 L752.3,489.6 L753.3,489.6 L754.3,489.7 L755.3,489.7 L756.3,489.7 L757.3,489.7 L758.3,489.8 L759.3,489.8 L760.4,489.8 L761.4,489.9 L762.4,489.9 L763.4,489.9 L764.4,490.0 L765.4,490.0 L766.4,490.0 L767.4,490.1 L768.4,490.1 L769.4,490.2 L770.4,490.2 L771.4,490.2 L772.4,490.3 L773.4,490.3 L774.4,490.4 L775.4,490.4 L776.4,490.5 L777.4,490.5 L778.4,490.5 L779.3,490.6 L780.3,490.6 L781.3,490.7 L782.3,490.8 L783.3,490.8 L784.3,490.9" stroke="#006400" stroke-width="3.0" stroke-linecap="butt"/>
<path d="M109.2,499.6 L185.0,499.6 L204.8,499.2 L205.9,499.1 L207.0,499.1 L208.0,499.0 L209.1,498.9 L210.1,498.8 L211.2,498.7 L212.2,498.6 L213.2,498.4 L214.2,498.2 L215.2,498.1 L216.2,497.9 L217.2,497.6 L218.2,497.4 L219.2,497.2 L220.1,496.9 L221.1,496.6 L222.1,496.3 L223.0,496.0 L224.0,495.7 L224.9,495.4 L225.8,495.0 L226.7,494.7 L227.7,494.3 L228.6,493.9 L229.5,493.5 L230.4,493.1 L231.3,492.7 L232.2,492.3 L233.0,491.8 L233.9,491.3 L234.8,490.9 L235.7,490.4 L236.5,489.9 L237.4,489.4 L238.2,488.9 L239.0,488.4 L239.9,487.8 L240.7,487.3 L241.5,486.7 L242.3,486.2 L243.2,485.6 L244.0,485.0 L244.8,484.4 L245.6,483.8 L246.4,483.2 L247.1,482.6 L247.9,481.9 L248.7,481.3 L249.5,480.7 L250.2,480.0 L251.0,479.3 L251.7,478.7 L252.5,478.0 L253.2,477.3 L254.0,476.6 L254.7,475.9 L255.4,475.2 L256.2,474.5 L256.9,473.8 L257.6,473.1 L258.3,472.4 L259.0,471.6 L259.7,470.9 L260.4,470.2 L261.1,469.4 L261.8,468.7 L262.5,467.9 L263.2,467.2 L263.9,466.4 L264.5,465.6 L265.2,464.9 L265.9,464.1 L266.5,463.3 L267.2,462.6 L267.8,461.8 L268.5,461.0 L269.1,460.2 L269.8,459.4 L270.4,458.6 L271.0,457.9 L271.7,457.1 L272.3,456.3 L272.9,455.5 L273.5,454.7 L274.2,453.9 L274.8,453.1 L275.4,452.3 L276.0,451.5 L276.6,450.7 L277.2,449.9 L277.8,449.1 L278.4,448.3 L279.0,447.5 L279.6,446.7 L280.2,445.9 L280.8,445.1 L281.4,444.3 L282.0,443.4 L282.5,442.6 L283.1,441.8 L283.7,441.0 L284.3,440.2 L284.9,439.4 L285.4,438.6 L286.0,437.8 L286.6,436.9 L287.2,436.1 L287.7,435.3 L288.3,434.5 L288.9,433.7 L289.5,432.8 L290.0,432.0 L290.6,431.2 L291.2,430.4 L291.7,429.6 L292.3,428.7 L292.9,427.9 L293.4,427.1 L294.0,426.3 L294.6,425.5 L295.2,424.6 L295.7,423.8 L296.3,423.0 L296.9,422.2 L297.5,421.3 L298.0,420.5 L298.6,419.7 L299.2,418.9 L299.8,418.0 L300.3,417.2 L300.9,416.4 L301.5,415.6 L302.1,414.8 L302.7,413.9 L303.3,413.1 L303.8,412.3 L304.4,411.5 L305.0,410.7 L305.6,409.9 L306.2,409.0 L306.8,408.2 L307.4,407.4 L308.0,406.6 L308.6,405.8 L309.2,405.0 L309.8,404.2 L310.4,403.4 L311.0,402.6 L311.6,401.8 L312.2,401.0 L312.8,400.2 L313.5,399.4 L314.1,398.6 L314.7,397.8 L315.3,397.0 L316.0,396.2 L316.6,395.4 L317.2,394.7 L317.8,393.9 L318.5,393.1 L319.1,392.3 L319.8,391.6 L320.4,390.8 L321.1,390.0 L321.7,389.3 L322.4,388.5 L323.1,387.8 L323.7,387.0 L324.4,386.3 L325.1,385.6 L325.8,384.8 L326.5,384.1 L327.2,383.4 L327.9,382.7 L328.6,381.9 L329.3,381.2 L330.0,380.5 L330.7,379.8 L331.4,379.1 L332.2,378.4 L332.9,377.8 L333.7,377.1 L334.4,376.4 L335.2,375.7 L335.9,375.1 L336.7,374.4 L337.5,373.8 L338.3,373.1 L339.1,372.5 L339.9,371.9 L340.7,371.3 L341.5,370.6 L342.3,370.0 L343.1,369.5 L344.0,368.9 L344.8,368.3 L345.7,367.7 L346.5,367.2 L347.4,366.6 L348.3,366.1 L349.1,365.6 L350.0,365.1 L350.9,364.6 L351.8,364.1 L352.7,363.7 L353.6,363.3 L354.5,362.8 L355.4,362.4 L356.3,362.0 L357.2,361.7 L358.2,361.3 L359.1,361.0 L360.0,360.7 L361.0,360.4 L361.9,360.1 L362.9,359.8 L363.8,359.6 L364.8,359.4 L365.8,359.2 L366.7,359.0 L367.7,358.9 L368.7,358.8 L369.7,358.7 L370.6,358.6 L371.6,358.5 L372.6,358.4 L373.6,358.4 L374.6,358.4 L375.6,358.4 L376.6,358.4 L377.6,358.4 L378.6,358.4 L379.6,358.5 L380.6,358.6 L381.6,358.6 L382.6,358.7 L383.6,358.9 L384.6,359.0 L385.6,359.1 L386.6,359.3 L387.6,359.4 L388.6,359.6 L389.6,359.8 L390.6,360.0 L391.6,360.2 L392.6,360.4 L393.6,360.7 L394.6,360.9 L395.6,361.2 L396.6,361.4 L397.6,361.7 L398.6,362.0 L399.6,362.3 L400.6,362.6 L401.5,362.9 L402.5,363.2 L403.5,363.5 L404.5,363.9 L405.4,364.2 L406.4,364.5 L407.3,364.9 L408.3,365.2 L409.2,365.6 L410.2,366.0 L411.1,366.3 L412.0,366.7 L413.0,367.1 L413.9,367.5 L414.8,367.8 L415.7,368.2 L416.6,368.6 L417.5,369.0 L418.4,369.4 L419.3,369.8 L420.2,370.2 L421.0,370.6 L421.9,371.0" stroke="#0000ff" stroke-width="2.1" stroke-dasharray="2.7 2.0 2.7 6.5" stroke-dashoffset="7.3"/>
<path d="M422.0,371.1 L422.9,371.5 L423.8,371.9 L424.7,372.4 L425.6,372.8 L426.5,373.3 L427.4,373.7 L428.3,374.2 L429.2,374.6 L430.1,375.1 L431.0,375.5 L431.9,376.0 L432.8,376.4 L433.6,376.9 L434.5,377.3 L435.4,377.8 L436.3,378.3 L437.2,378.7 L438.1,379.2 L439.0,379.7 L439.9,380.1 L440.8,380.6 L441.6,381.1 L442.5,381.6 L443.4,382.0 L444.3,382.5 L445.2,383.0 L446.1,383.5 L446.9,384.0 L447.8,384.4 L448.7,384.9 L449.6,385.4 L450.5,385.9 L451.3,386.4 L452.2,386.9 L453.1,387.3 L454.0,387.8 L454.8,388.3 L455.7,388.8 L456.6,389.3 L457.5,389.8 L458.4,390.3 L459.2,390.8 L460.1,391.3 L461.0,391.8 L461.9,392.3 L462.7,392.8 L463.6,393.3 L464.5,393.8 L465.4,394.3 L466.2,394.7 L467.1,395.2 L468.0,395.7 L468.8,396.2 L469.7,396.7 L470.6,397.2 L471.5,397.7 L472.3,398.2 L473.2,398.7 L474.1,399.2 L475.0,399.7 L475.8,400.2 L476.7,400.7 L477.6,401.2 L478.5,401.7 L479.3,402.2 L480.2,402.7 L481.1,403.2 L482.0,403.7 L482.8,404.2 L483.7,404.7 L484.6,405.2 L485.5,405.7 L486.3,406.2 L487.2,406.6 L488.1,407.1 L489.0,407.6 L489.9,408.1 L490.7,408.6 L491.6,409.1 L492.5,409.6 L493.4,410.0 L494.3,410.5 L495.1,411.0 L496.0,411.5 L496.9,412.0 L497.8,412.4 L498.7,412.9 L499.6,413.4 L500.5,413.8 L501.4,414.3 L502.2,414.8 L503.1,415.2 L504.0,415.7 L504.9,416.1 L505.8,416.6 L506.7,417.0 L507.6,417.5 L508.5,417.9 L509.4,418.4 L510.3,418.8 L511.2,419.2 L512.1,419.7 L513.0,420.1 L513.9,420.5 L514.8,421.0 L515.8,421.4 L516.7,421.8 L517.6,422.2 L518.5,422.6 L519.4,423.1 L520.3,423.5 L521.2,423.9 L522.1,424.3 L523.1,424.7 L524.0,425.1 L524.9,425.5 L525.8,425.9 L526.8,426.3 L527.7,426.6 L528.6,427.0 L529.5,427.4 L530.5,427.8 L531.4,428.2 L532.3,428.6 L533.2,428.9 L534.2,429.3 L535.1,429.7 L536.0,430.1 L537.0,430.4 L537.9,430.8 L538.8,431.1 L539.8,431.5 L540.7,431.9 L541.6,432.2 L542.6,432.6 L543.5,432.9 L544.5,433.3 L545.4,433.6 L546.3,434.0 L547.3,434.3 L548.2,434.7 L549.2,435.0 L550.1,435.3 L551.1,435.7 L552.0,436.0 L553.0,436.4 L553.9,436.7 L554.9,437.0 L555.8,437.3 L556.8,437.7 L557.7,438.0 L558.7,438.3 L559.6,438.6 L560.6,439.0 L561.5,439.3 L562.5,439.6 L563.4,439.9 L564.4,440.2 L565.3,440.5 L566.3,440.8 L567.2,441.2 L568.2,441.5 L569.1,441.8 L570.1,442.1 L571.1,442.4 L572.0,442.7 L573.0,443.0 L573.9,443.3 L574.9,443.6 L575.8,443.9 L576.8,444.2 L577.8,444.5 L578.7,444.8 L579.7,445.0 L580.6,445.3 L581.6,445.6 L582.6,445.9 L583.5,446.2 L584.5,446.5 L585.5,446.8 L586.4,447.0 L587.4,447.3 L588.4,447.6 L589.3,447.9 L590.3,448.1 L591.2,448.4 L592.2,448.7 L593.2,449.0 L594.1,449.2 L595.1,449.5 L596.1,449.8 L597.1,450.0 L598.0,450.3 L599.0,450.6 L600.0,450.8 L600.9,451.1 L601.9,451.3 L602.9,451.6 L603.8,451.9 L604.8,452.1 L605.8,452.4 L606.8,452.6 L607.7,452.9 L608.7,453.1 L609.7,453.4 L610.6,453.6 L611.6,453.9 L612.6,454.1 L613.6,454.3 L614.5,454.6 L615.5,454.8 L616.5,455.1 L617.5,455.3 L618.4,455.5 L619.4,455.8 L620.4,456.0 L621.4,456.2 L622.4,456.5 L623.3,456.7 L624.3,456.9 L625.3,457.2 L626.3,457.4 L627.2,457.6 L628.2,457.8 L629.2,458.1 L630.2,458.3 L631.2,458.5 L632.1,458.7 L633.1,458.9 L634.1,459.1 L635.1,459.4 L636.1,459.6 L637.0,459.8 L638.0,460.0 L639.0,460.2 L640.0,460.4 L641.0,460.6 L642.0,460.8 L642.9,461.0 L643.9,461.2 L644.9,461.4 L645.9,461.6 L646.9,461.8 L647.9,462.0 L648.9,462.2 L649.8,462.4 L650.8,462.6 L651.8,462.8 L652.8,463.0 L653.8,463.2 L654.8,463.4 L655.8,463.6 L656.7,463.8 L657.7,464.0 L658.7,464.1 L659.7,464.3 L660.7,464.5 L661.7,464.7 L662.7,464.9 L663.7,465.1 L664.7,465.2 L665.6,465.4 L666.6,465.6 L667.6,465.8 L668.6,465.9 L669.6,466.1 L670.6,466.3 L671.6,466.4 L672.6,466.6 L673.6,466.8 L674.6,467.0 L675.5,467.1 L676.5,467.3 L677.5,467.4 L678.5,467.6 L679.5,467.8 L680.5,467.9 L681.5,468.1 L682.5,468.2 L683.5,468.4 L684.5,468.6 L685.5,468.7 L686.5,468.9 L687.5,469.0 L688.4,469.2 L689.4,469.3 L690.4,469.5 L691.4,469.6 L692.4,469.8 L693.4,469.9 L694.4,470.1 L695.4,470.2 L696.4,470.3 L697.4,470.5 L698.4,470.6 L699.4,470.8 L700.4,470.9 L701.4,471.0 L702.4,471.2 L703.4,471.3 L704.4,471.4 L705.4,471.6 L706.4,471.7 L707.4,471.8 L708.4,472.0 L709.4,472.1 L710.3,472.2 L711.3,472.4 L712.3,472.5 L713.3,472.6 L714.3,472.7 L715.3,472.9 L716.3,473.0 L717.3,473.1 L718.3,473.2 L719.3,473.3 L720.3,473.5 L721.3,473.6 L722.3,473.7 L723.3,473.8 L724.3,473.9 L725.3,474.0 L726.3,474.1 L727.3,474.2 L728.3,474.4 L729.3,474.5 L730.3,474.6 L731.3,474.7 L732.3,474.8 L733.3,474.9 L734.3,475.0 L735.3,475.1 L736.3,475.2 L737.3,475.3 L738.3,475.4 L739.3,475.5 L740.3,475.6 L741.3,475.7 L742.3,475.8 L743.3,475.9 L744.3,476.0 L745.3,476.1 L746.3,476.2 L747.3,476.3 L748.3,476.4 L749.3,476.4 L750.3,476.5 L751.3,476.6 L752.3,476.7 L753.3,476.8 L754.3,476.9 L755.3,477.0 L756.3,477.0 L757.3,477.1 L758.3,477.2 L759.3,477.3 L760.3,477.4 L761.3,477.5 L762.3,477.5 L763.3,477.6 L764.3,477.7 L765.3,477.8 L766.3,477.8 L767.3,477.9 L768.3,478.0 L769.3,478.1 L770.3,478.1 L771.3,478.2 L772.3,478.3 L773.3,478.3 L774.3,478.4 L775.3,478.5 L776.3,478.5 L777.3,478.6 L778.3,478.7 L779.3,478.7 L780.3,478.8 L781.3,478.9 L782.3,478.9 L783.3,479.0 L784.3,479.0" stroke="#0000ff" stroke-width="3.0" stroke-linecap="butt"/>
<path d="M109.2,499.6 L200.0,499.6 L219.9,499.1 L220.9,499.0 L221.9,499.0 L223.0,498.9 L224.0,498.8 L225.0,498.7 L226.0,498.7 L227.0,498.6 L228.1,498.5 L229.1,498.4 L230.1,498.2 L231.1,498.1 L232.1,498.0 L233.1,497.9 L234.1,497.7 L235.1,497.6 L236.1,497.4 L237.1,497.3 L238.1,497.1 L239.1,496.9 L240.1,496.7 L241.1,496.5 L242.1,496.4 L243.1,496.2 L244.1,496.0 L245.0,495.7 L246.0,495.5 L247.0,495.3 L248.0,495.1 L249.0,494.9 L249.9,494.6 L250.9,494.4 L251.9,494.1 L252.9,493.9 L253.8,493.6 L254.8,493.4 L255.8,493.1 L256.7,492.8 L257.7,492.5 L258.7,492.3 L259.6,492.0 L260.6,491.7 L261.5,491.4 L262.5,491.1 L263.4,490.8 L264.4,490.5 L265.4,490.2 L266.3,489.8 L267.3,489.5 L268.2,489.2 L269.2,488.9 L270.1,488.5 L271.0,488.2 L272.0,487.8 L272.9,487.5 L273.9,487.2 L274.8,486.8 L275.8,486.5 L276.7,486.1 L277.6,485.7 L278.6,485.4 L279.5,485.0 L280.4,484.6 L281.4,484.3 L282.3,483.9 L283.2,483.5 L284.2,483.1 L285.1,482.7 L286.0,482.4 L287.0,482.0 L287.9,481.6 L288.8,481.2 L289.7,480.8 L290.7,480.4 L291.6,480.0 L292.5,479.6 L293.4,479.2 L294.4,478.8 L295.3,478.4 L296.2,478.0 L297.1,477.6 L298.0,477.1 L299.0,476.7 L299.9,476.3 L300.8,475.9 L301.7,475.5 L302.6,475.1 L303.6,474.7 L304.5,474.2 L305.4,473.8 L306.3,473.4 L307.2,473.0 L308.1,472.6 L309.1,472.1 L310.0,471.7 L310.9,471.3 L311.8,470.9 L312.7,470.5 L313.7,470.1 L314.6,469.6 L315.5,469.2 L316.4,468.8 L317.3,468.4 L318.3,468.0 L319.2,467.6 L320.1,467.1 L321.0,466.7 L321.9,466.3 L322.9,465.9 L323.8,465.5 L324.7,465.1 L325.6,464.7 L326.6,464.3 L327.5,463.9 L328.4,463.5 L329.3,463.1 L330.3,462.7 L331.2,462.3 L332.1,461.9 L333.0,461.5 L334.0,461.1 L334.9,460.7 L335.8,460.3 L336.8,460.0 L337.7,459.6 L338.6,459.2 L339.6,458.8 L340.5,458.5 L341.5,458.1 L342.4,457.7 L343.3,457.4 L344.3,457.0 L345.2,456.7 L346.2,456.3 L347.1,455.9 L348.0,455.6 L349.0,455.2 L349.9,454.9 L350.9,454.6 L351.8,454.2 L352.8,453.9 L353.7,453.6 L354.7,453.2 L355.6,452.9 L356.6,452.6 L357.5,452.3 L358.5,451.9 L359.4,451.6 L360.4,451.3 L361.4,451.0 L362.3,450.7 L363.3,450.4 L364.2,450.1 L365.2,449.8 L366.1,449.5 L367.1,449.2 L368.1,448.9 L369.0,448.7 L370.0,448.4 L371.0,448.1 L371.9,447.8 L372.9,447.6 L373.9,447.3 L374.8,447.0 L375.8,446.8 L376.8,446.5 L377.7,446.3 L378.7,446.0 L379.7,445.8 L380.7,445.5 L381.6,445.3 L382.6,445.1 L383.6,444.8 L384.6,444.6 L385.6,444.4 L386.5,444.2 L387.5,444.0 L388.5,443.8 L389.5,443.6 L390.5,443.4 L391.4,443.2 L392.4,443.0 L393.4,442.8 L394.4,442.6 L395.4,442.4 L396.4,442.2 L397.4,442.0 L398.4,441.9 L399.3,441.7 L400.3,441.6 L401.3,441.4 L402.3,441.2 L403.3,441.1 L404.3,440.9 L405.3,440.8 L406.3,440.7 L407.3,440.5 L408.3,440.4 L409.3,440.3 L410.3,440.2 L411.3,440.1 L412.3,439.9 L413.3,439.8 L414.3,439.7 L415.3,439.6 L416.3,439.5 L417.3,439.5 L418.3,439.4 L419.3,439.3 L420.4,439.2 L421.4,439.2 L422.4,439.1 L423.4,439.0 L424.4,439.0 L425.4,438.9 L426.4,438.9 L427.4,438.8 L428.5,438.8 L429.5,438.8 L430.5,438.8 L431.5,438.7 L432.5,438.7 L433.6,438.7 L434.6,438.7 L435.6,438.7 L436.6,438.7 L437.6,438.7 L438.7,438.7 L439.7,438.7 L440.7,438.8 L441.7,438.8" stroke="#ff00ff" stroke-width="2.1" stroke-dasharray="2.7 2.0 2.7 6.5" stroke-dashoffset="7.3"/>
<path d="M443.6,438.1 L444.6,438.2 L445.6,438.3 L446.6,438.3 L447.6,438.4 L448.6,438.5 L449.6,438.6 L450.6,438.6 L451.6,438.7 L452.6,438.8 L453.6,438.8 L454.6,438.9 L455.7,439.0 L456.7,439.1 L457.7,439.2 L458.7,439.2 L459.7,439.3 L460.7,439.4 L461.7,439.5 L462.7,439.5 L463.7,439.6 L464.7,439.7 L465.7,439.8 L466.7,439.9 L467.7,440.0 L468.7,440.1 L469.7,440.1 L470.7,440.2 L471.7,440.3 L472.7,440.4 L473.7,440.5 L474.7,440.6 L475.7,440.7 L476.7,440.8 L477.7,440.9 L478.7,441.0 L479.7,441.0 L480.7,441.1 L481.7,441.2 L482.7,441.3 L483.7,441.4 L484.7,441.5 L485.7,441.6 L486.7,441.7 L487.7,441.8 L488.7,441.9 L489.7,442.0 L490.7,442.1 L491.7,442.2 L492.7,442.3 L493.7,442.4 L494.7,442.5 L495.7,442.6 L496.7,442.7 L497.7,442.8 L498.7,442.9 L499.7,443.0 L500.7,443.2 L501.7,443.3 L502.7,443.4 L503.7,443.5 L504.7,443.6 L505.7,443.7 L506.7,443.8 L507.7,443.9 L508.7,444.0 L509.6,444.1 L510.6,444.2 L511.6,444.4 L512.6,444.5 L513.6,444.6 L514.6,444.7 L515.6,444.8 L516.6,444.9 L517.6,445.0 L518.6,445.1 L519.6,445.3 L520.6,445.4 L521.6,445.5 L522.6,445.6 L523.6,445.7 L524.6,445.8 L525.6,446.0 L526.6,446.1 L527.6,446.2 L528.6,446.3 L529.6,446.4 L530.6,446.6 L531.6,446.7 L532.6,446.8 L533.6,446.9 L534.6,447.0 L535.6,447.2 L536.6,447.3 L537.6,447.4 L538.6,447.5 L539.6,447.7 L540.6,447.8 L541.6,447.9 L542.6,448.0 L543.6,448.1 L544.6,448.3 L545.6,448.4 L546.6,448.5 L547.6,448.6 L548.6,448.8 L549.6,448.9 L550.6,449.0 L551.6,449.1 L552.5,449.3 L553.5,449.4 L554.5,449.5 L555.5,449.6 L556.5,449.8 L557.5,449.9 L558.5,450.0 L559.5,450.2 L560.5,450.3 L561.5,450.4 L562.5,450.5 L563.5,450.7 L564.5,450.8 L565.5,450.9 L566.5,451.1 L567.5,451.2 L568.5,451.3 L569.5,451.4 L570.5,451.6 L571.5,451.7 L572.5,451.8 L573.5,452.0 L574.5,452.1 L575.5,452.2 L576.5,452.3 L577.5,452.5 L578.5,452.6 L579.5,452.7 L580.5,452.9 L581.5,453.0 L582.5,453.1 L583.5,453.3 L584.5,453.4 L585.4,453.5 L586.4,453.6 L587.4,453.8 L588.4,453.9 L589.4,454.0 L590.4,454.2 L591.4,454.3 L592.4,454.4 L593.4,454.6 L594.4,454.7 L595.4,454.8 L596.4,454.9 L597.4,455.1 L598.4,455.2 L599.4,455.3 L600.4,455.5 L601.4,455.6 L602.4,455.7 L603.4,455.9 L604.4,456.0 L605.4,456.1 L606.4,456.2 L607.4,456.4 L608.4,456.5 L609.4,456.6 L610.4,456.8 L611.4,456.9 L612.4,457.0 L613.4,457.2 L614.4,457.3 L615.4,457.4 L616.3,457.5 L617.3,457.7 L618.3,457.8 L619.3,457.9 L620.3,458.1 L621.3,458.2 L622.3,458.3 L623.3,458.4 L624.3,458.6 L625.3,458.7 L626.3,458.8 L627.3,459.0 L628.3,459.1 L629.3,459.2 L630.3,459.3 L631.3,459.5 L632.3,459.6 L633.3,459.7 L634.3,459.8 L635.3,460.0 L636.3,460.1 L637.3,460.2 L638.3,460.4 L639.3,460.5 L640.3,460.6 L641.3,460.7 L642.3,460.9 L643.3,461.0 L644.3,461.1 L645.3,461.2 L646.3,461.4 L647.3,461.5 L648.3,461.6 L649.3,461.7 L650.3,461.8 L651.3,462.0 L652.2,462.1 L653.2,462.2 L654.2,462.3 L655.2,462.5 L656.2,462.6 L657.2,462.7 L658.2,462.8 L659.2,462.9 L660.2,463.1 L661.2,463.2 L662.2,463.3 L663.2,463.4 L664.2,463.5 L665.2,463.7 L666.2,463.8 L667.2,463.9 L668.2,464.0 L669.2,464.1 L670.2,464.3 L671.2,464.4 L672.2,464.5 L673.2,464.6 L674.2,464.7 L675.2,464.8 L676.2,465.0 L677.2,465.1 L678.2,465.2 L679.2,465.3 L680.2,465.4 L681.2,465.5 L682.2,465.6 L683.2,465.8 L684.2,465.9 L685.2,466.0 L686.2,466.1 L687.2,466.2 L688.2,466.3 L689.2,466.4 L690.2,466.5 L691.2,466.7 L692.2,466.8 L693.2,466.9 L694.2,467.0 L695.2,467.1 L696.2,467.2 L697.2,467.3 L698.2,467.4 L699.2,467.5 L700.2,467.6 L701.2,467.7 L702.2,467.8 L703.2,467.9 L704.2,468.0 L705.2,468.2 L706.2,468.3 L707.2,468.4 L708.2,468.5 L709.2,468.6 L710.2,468.7 L711.2,468.8 L712.2,468.9 L713.2,469.0 L714.2,469.1 L715.2,469.2 L716.2,469.3 L717.2,469.4 L718.2,469.5 L719.2,469.6 L720.2,469.7 L721.2,469.7 L722.2,469.8 L723.2,469.9 L724.2,470.0 L725.2,470.1 L726.2,470.2 L727.2,470.3 L728.2,470.4 L729.2,470.5 L730.2,470.6 L731.2,470.7 L732.2,470.8 L733.2,470.9 L734.2,470.9 L735.2,471.0 L736.2,471.1 L737.2,471.2 L738.2,471.3 L739.2,471.4 L740.2,471.5 L741.2,471.5 L742.2,471.6 L743.2,471.7 L744.2,471.8 L745.2,471.9 L746.2,472.0 L747.2,472.0 L748.2,472.1 L749.2,472.2 L750.2,472.3 L751.2,472.3 L752.2,472.4 L753.2,472.5 L754.2,472.6 L755.2,472.6 L756.2,472.7 L757.2,472.8 L758.2,472.9 L759.2,472.9 L760.2,473.0 L761.2,473.1 L762.2,473.2 L763.2,473.2 L764.2,473.3 L765.2,473.4 L766.2,473.4 L767.3,473.5 L768.3,473.6 L769.3,473.6 L770.3,473.7 L771.3,473.7 L772.3,473.8 L773.3,473.9 L774.3,473.9 L775.3,474.0 L776.3,474.1 L777.3,474.1 L778.3,474.2 L779.3,474.2 L780.3,474.3 L781.3,474.3 L782.3,474.4 L783.3,474.4 L784.3,474.5" stroke="#ff00ff" stroke-width="3.0" stroke-linecap="butt"/>
<path d="M109.2,499.6 L220.0,499.6 L240.0,499.3 L241.0,499.2 L242.0,499.2 L243.0,499.1 L244.1,499.1 L245.1,499.0 L246.1,499.0 L247.1,498.9 L248.1,498.9 L249.1,498.8 L250.1,498.7 L251.1,498.7 L252.1,498.6 L253.2,498.6 L254.2,498.5 L255.2,498.5 L256.2,498.4 L257.2,498.3 L258.2,498.3 L259.2,498.2 L260.2,498.1 L261.3,498.1 L262.3,498.0 L263.3,498.0 L264.3,497.9 L265.3,497.8 L266.3,497.8 L267.3,497.7 L268.3,497.6 L269.3,497.6 L270.4,497.5 L271.4,497.4 L272.4,497.4 L273.4,497.3 L274.4,497.2 L275.4,497.1 L276.4,497.1 L277.4,497.0 L278.4,496.9 L279.5,496.9 L280.5,496.8 L281.5,496.7 L282.5,496.6 L283.5,496.6 L284.5,496.5 L285.5,496.4 L286.5,496.3 L287.5,496.3 L288.5,496.2 L289.6,496.1 L290.6,496.0 L291.6,495.9 L292.6,495.9 L293.6,495.8 L294.6,495.7 L295.6,495.6 L296.6,495.5 L297.6,495.5 L298.7,495.4 L299.7,495.3 L300.7,495.2 L301.7,495.1 L302.7,495.1 L303.7,495.0 L304.7,494.9 L305.7,494.8 L306.7,494.7 L307.7,494.6 L308.8,494.5 L309.8,494.5 L310.8,494.4 L311.8,494.3 L312.8,494.2 L313.8,494.1 L314.8,494.0 L315.8,493.9 L316.8,493.9 L317.8,493.8 L318.9,493.7 L319.9,493.6 L320.9,493.5 L321.9,493.4 L322.9,493.3 L323.9,493.2 L324.9,493.2 L325.9,493.1 L326.9,493.0 L327.9,492.9 L328.9,492.8 L330.0,492.7 L331.0,492.6 L332.0,492.5 L333.0,492.4 L334.0,492.4 L335.0,492.3 L336.0,492.2 L337.0,492.1 L338.0,492.0 L339.0,491.9 L340.1,491.8 L341.1,491.7 L342.1,491.6 L343.1,491.5 L344.1,491.5 L345.1,491.4 L346.1,491.3 L347.1,491.2 L348.1,491.1 L349.1,491.0 L350.1,490.9 L351.2,490.8 L352.2,490.7 L353.2,490.6 L354.2,490.5 L355.2,490.5 L356.2,490.4 L357.2,490.3 L358.2,490.2 L359.2,490.1 L360.2,490.0 L361.2,489.9 L362.3,489.8 L363.3,489.7 L364.3,489.6 L365.3,489.5 L366.3,489.5 L367.3,489.4" stroke="#c04000" stroke-width="2.1" stroke-dasharray="2.7 2.0 2.7 6.5" stroke-dashoffset="7.3"/>
<path d="M368.3,489.2 L369.3,489.1 L370.3,489.0 L371.3,488.9 L372.3,488.9 L373.3,488.8 L374.3,488.7 L375.3,488.7 L376.3,488.6 L377.3,488.5 L378.3,488.4 L379.3,488.4 L380.3,488.3 L381.3,488.2 L382.3,488.2 L383.3,488.1 L384.3,488.0 L385.3,488.0 L386.3,487.9 L387.3,487.8 L388.3,487.8 L389.3,487.7 L390.3,487.6 L391.3,487.6 L392.3,487.5 L393.3,487.5 L394.3,487.4 L395.3,487.3 L396.3,487.3 L397.3,487.2 L398.3,487.2 L399.3,487.1 L400.3,487.1 L401.3,487.0 L402.3,486.9 L403.3,486.9 L404.3,486.8 L405.3,486.8 L406.3,486.7 L407.3,486.7 L408.3,486.6 L409.3,486.6 L410.3,486.5 L411.3,486.5 L412.3,486.4 L413.3,486.4 L414.3,486.3 L415.3,486.3 L416.4,486.2 L417.4,486.2 L418.4,486.1 L419.4,486.1 L420.4,486.1 L421.4,486.0 L422.4,486.0 L423.4,485.9 L424.4,485.9 L425.4,485.8 L426.4,485.8 L427.4,485.8 L428.4,485.7 L429.4,485.7 L430.4,485.6 L431.4,485.6 L432.4,485.6 L433.4,485.5 L434.4,485.5 L435.4,485.5 L436.4,485.4 L437.4,485.4 L438.4,485.4 L439.4,485.3 L440.4,485.3 L441.4,485.3 L442.4,485.2 L443.4,485.2 L444.4,485.2 L445.4,485.1 L446.4,485.1 L447.4,485.1 L448.4,485.0 L449.4,485.0 L450.4,485.0 L451.4,485.0 L452.4,484.9 L453.4,484.9 L454.4,484.9 L455.4,484.9 L456.4,484.8 L457.4,484.8 L458.4,484.8 L459.4,484.8 L460.4,484.7 L461.4,484.7 L462.4,484.7 L463.4,484.7 L464.4,484.6 L465.4,484.6 L466.5,484.6 L467.5,484.6 L468.5,484.6 L469.5,484.5 L470.5,484.5 L471.5,484.5 L472.5,484.5 L473.5,484.5 L474.5,484.5 L475.5,484.4 L476.5,484.4 L477.5,484.4 L478.5,484.4 L479.5,484.4 L480.5,484.4 L481.5,484.3 L482.5,484.3 L483.5,484.3 L484.5,484.3 L485.5,484.3 L486.5,484.3 L487.5,484.3 L488.5,484.3 L489.5,484.3 L490.5,484.2 L491.5,484.2 L492.5,484.2 L493.5,484.2 L494.5,484.2 L495.5,484.2 L496.5,484.2 L497.5,484.2 L498.5,484.2 L499.5,484.2 L500.5,484.2 L501.5,484.2 L502.5,484.2 L503.5,484.1 L504.5,484.1 L505.5,484.1 L506.5,484.1 L507.6,484.1 L508.6,484.1 L509.6,484.1 L510.6,484.1 L511.6,484.1 L512.6,484.1 L513.6,484.1 L514.6,484.1 L515.6,484.1 L516.6,484.1 L517.6,484.1 L518.6,484.1 L519.6,484.1 L520.6,484.1 L521.6,484.1 L522.6,484.1 L523.6,484.1 L524.6,484.1 L525.6,484.1 L526.6,484.1 L527.6,484.1 L528.6,484.1 L529.6,484.1 L530.6,484.2 L531.6,484.2 L532.6,484.2 L533.6,484.2 L534.6,484.2 L535.6,484.2 L536.6,484.2 L537.6,484.2 L538.6,484.2 L539.6,484.2 L540.6,484.2 L541.6,484.2 L542.6,484.2 L543.6,484.2 L544.7,484.2 L545.7,484.3 L546.7,484.3 L547.7,484.3 L548.7,484.3 L549.7,484.3 L550.7,484.3 L551.7,484.3 L552.7,484.3 L553.7,484.3 L554.7,484.3 L555.7,484.4 L556.7,484.4 L557.7,484.4 L558.7,484.4 L559.7,484.4 L560.7,484.4 L561.7,484.4 L562.7,484.4 L563.7,484.5 L564.7,484.5 L565.7,484.5 L566.7,484.5 L567.7,484.5 L568.7,484.5 L569.7,484.5 L570.7,484.6 L571.7,484.6 L572.7,484.6 L573.7,484.6 L574.7,484.6 L575.7,484.6 L576.7,484.7 L577.7,484.7 L578.7,484.7 L579.8,484.7 L580.8,484.7 L581.8,484.7 L582.8,484.8 L583.8,484.8 L584.8,484.8 L585.8,484.8 L586.8,484.8 L587.8,484.8 L588.8,484.9 L589.8,484.9 L590.8,484.9 L591.8,484.9 L592.8,484.9 L593.8,485.0 L594.8,485.0 L595.8,485.0 L596.8,485.0 L597.8,485.0 L598.8,485.1 L599.8,485.1 L600.8,485.1 L601.8,485.1 L602.8,485.1 L603.8,485.2 L604.8,485.2 L605.8,485.2 L606.8,485.2 L607.8,485.2 L608.8,485.3 L609.8,485.3 L610.8,485.3 L611.8,485.3 L612.8,485.4 L613.9,485.4 L614.9,485.4 L615.9,485.4 L616.9,485.4 L617.9,485.5 L618.9,485.5 L619.9,485.5 L620.9,485.5 L621.9,485.6 L622.9,485.6 L623.9,485.6 L624.9,485.6 L625.9,485.7 L626.9,485.7 L627.9,485.7 L628.9,485.7 L629.9,485.7 L630.9,485.8 L631.9,485.8 L632.9,485.8 L633.9,485.8 L634.9,485.9 L635.9,485.9 L636.9,485.9 L637.9,485.9 L638.9,486.0 L639.9,486.0 L640.9,486.0 L641.9,486.0 L642.9,486.1 L643.9,486.1 L644.9,486.1 L645.9,486.1 L646.9,486.2 L648.0,486.2 L649.0,486.2 L650.0,486.2 L651.0,486.3 L652.0,486.3 L653.0,486.3 L654.0,486.3 L655.0,486.4 L656.0,486.4 L657.0,486.4 L658.0,486.4 L659.0,486.5 L660.0,486.5 L661.0,486.5 L662.0,486.5 L663.0,486.6 L664.0,486.6 L665.0,486.6 L666.0,486.6 L667.0,486.7 L668.0,486.7 L669.0,486.7 L670.0,486.7 L671.0,486.8 L672.0,486.8 L673.0,486.8 L674.0,486.8 L675.0,486.9 L676.0,486.9 L677.0,486.9 L678.0,486.9 L679.0,487.0 L680.0,487.0 L681.0,487.0 L682.0,487.0 L683.0,487.1 L684.1,487.1 L685.1,487.1 L686.1,487.1 L687.1,487.2 L688.1,487.2 L689.1,487.2 L690.1,487.2 L691.1,487.3 L692.1,487.3 L693.1,487.3 L694.1,487.3 L695.1,487.3 L696.1,487.4 L697.1,487.4 L698.1,487.4 L699.1,487.4 L700.1,487.5 L701.1,487.5 L702.1,487.5 L703.1,487.5 L704.1,487.6 L705.1,487.6 L706.1,487.6 L707.1,487.6 L708.1,487.7 L709.1,487.7 L710.1,487.7 L711.1,487.7 L712.1,487.7 L713.1,487.8 L714.1,487.8 L715.1,487.8 L716.1,487.8 L717.1,487.9 L718.1,487.9 L719.1,487.9 L720.1,487.9 L721.1,487.9 L722.2,488.0 L723.2,488.0 L724.2,488.0 L725.2,488.0 L726.2,488.0 L727.2,488.1 L728.2,488.1 L729.2,488.1 L730.2,488.1 L731.2,488.1 L732.2,488.2 L733.2,488.2 L734.2,488.2 L735.2,488.2 L736.2,488.2 L737.2,488.3 L738.2,488.3 L739.2,488.3 L740.2,488.3 L741.2,488.3 L742.2,488.3 L743.2,488.4 L744.2,488.4 L745.2,488.4 L746.2,488.4 L747.2,488.4 L748.2,488.4 L749.2,488.5 L750.2,488.5 L751.2,488.5 L752.2,488.5 L753.2,488.5 L754.2,488.5 L755.2,488.6 L756.2,488.6 L757.2,488.6 L758.2,488.6 L759.2,488.6 L760.2,488.6 L761.2,488.6 L762.2,488.7 L763.2,488.7 L764.2,488.7 L765.3,488.7 L766.3,488.7 L767.3,488.7 L768.3,488.7 L769.3,488.7 L770.3,488.8 L771.3,488.8 L772.3,488.8 L773.3,488.8 L774.3,488.8 L775.3,488.8 L776.3,488.8 L777.3,488.8 L778.3,488.8 L779.3,488.9 L780.3,488.9 L781.3,488.9 L782.3,488.9 L783.3,488.9 L784.3,488.9" stroke="#c04000" stroke-width="3.0" stroke-linecap="butt"/>
<path d="M109.2,499.6 L306.9,499.6" stroke="#c080ff" stroke-width="1.9" stroke-dasharray="2.7 2.0 2.7 6.5" stroke-dashoffset="7.3"/>
<path d="M306.9,499.6 L784.3,499.6" stroke="#c080ff" stroke-width="3.2"/>
</g>
<path d="M686,50.50 L754,50.50" stroke="#ff0000" stroke-width="3.0" fill="none"/>
<g transform="translate(560.6,57.00) scale(1.12,1.04)"><text x="0" y="0" font-size="24.5" font-style="italic" class="it">G</text></g>
<g transform="translate(581.5,60.70) scale(1.08,1)"><text x="0" y="0" font-size="18">0</text></g>
<path d="M601.0,47.70 h16.5 M601.0,52.80 h16.5" stroke="#000" stroke-width="1.1" fill="none"/>
<text x="669.0" y="57.00" font-size="24.5" text-anchor="end">0.01</text>
<path d="M686,75.85 L754,75.85" stroke="#006400" stroke-width="3.0" fill="none"/>
<g transform="translate(560.6,82.35) scale(1.12,1.04)"><text x="0" y="0" font-size="24.5" font-style="italic" class="it">G</text></g>
<g transform="translate(581.5,86.05) scale(1.08,1)"><text x="0" y="0" font-size="18">0</text></g>
<path d="M601.0,73.05 h16.5 M601.0,78.15 h16.5" stroke="#000" stroke-width="1.1" fill="none"/>
<text x="669.0" y="82.35" font-size="24.5" text-anchor="end">0.03</text>
<path d="M686,101.20 L754,101.20" stroke="#0000ff" stroke-width="3.0" fill="none"/>
<g transform="translate(560.6,107.70) scale(1.12,1.04)"><text x="0" y="0" font-size="24.5" font-style="italic" class="it">G</text></g>
<g transform="translate(581.5,111.40) scale(1.08,1)"><text x="0" y="0" font-size="18">0</text></g>
<path d="M601.0,98.40 h16.5 M601.0,103.50 h16.5" stroke="#000" stroke-width="1.1" fill="none"/>
<text x="669.0" y="107.70" font-size="24.5" text-anchor="end">0.10</text>
<path d="M686,126.55 L754,126.55" stroke="#ff00ff" stroke-width="3.0" fill="none"/>
<g transform="translate(560.6,133.05) scale(1.12,1.04)"><text x="0" y="0" font-size="24.5" font-style="italic" class="it">G</text></g>
<g transform="translate(581.5,136.75) scale(1.08,1)"><text x="0" y="0" font-size="18">0</text></g>
<path d="M601.0,123.75 h16.5 M601.0,128.85 h16.5" stroke="#000" stroke-width="1.1" fill="none"/>
<text x="669.0" y="133.05" font-size="24.5" text-anchor="end">0.30</text>
<path d="M686,151.90 L754,151.90" stroke="#c04000" stroke-width="3.0" fill="none"/>
<g transform="translate(560.6,158.40) scale(1.12,1.04)"><text x="0" y="0" font-size="24.5" font-style="italic" class="it">G</text></g>
<g transform="translate(581.5,162.10) scale(1.08,1)"><text x="0" y="0" font-size="18">0</text></g>
<path d="M601.0,149.10 h16.5 M601.0,154.20 h16.5" stroke="#000" stroke-width="1.1" fill="none"/>
<text x="669.0" y="158.40" font-size="24.5" text-anchor="end">0.70</text>
<path d="M686,177.25 L754,177.25" stroke="#c080ff" stroke-width="3.0" fill="none"/>
<g transform="translate(560.6,183.75) scale(1.12,1.04)"><text x="0" y="0" font-size="24.5" font-style="italic" class="it">G</text></g>
<g transform="translate(581.5,187.45) scale(1.08,1)"><text x="0" y="0" font-size="18">0</text></g>
<path d="M601.0,174.45 h16.5 M601.0,179.55 h16.5" stroke="#000" stroke-width="1.1" fill="none"/>
<text x="669.0" y="183.75" font-size="24.5" text-anchor="end">1.00</text>
<g stroke="#000" fill="none" stroke-linecap="butt">
<rect x="109.20" y="30.40" width="675.10" height="469.20" stroke-width="1.6"/>
<path d="M109.20,421.40 h7.20 M784.30,421.40 h-7.20" stroke-width="1.3"/>
<path d="M109.20,343.20 h7.20 M784.30,343.20 h-7.20" stroke-width="1.3"/>
<path d="M109.20,265.00 h7.20 M784.30,265.00 h-7.20" stroke-width="1.3"/>
<path d="M109.20,186.80 h7.20 M784.30,186.80 h-7.20" stroke-width="1.3"/>
<path d="M109.20,108.60 h7.20 M784.30,108.60 h-7.20" stroke-width="1.3"/>
<path d="M244.22,499.60 v-7.20 M244.22,30.40 v7.20" stroke-width="1.3"/>
<path d="M379.24,499.60 v-7.20 M379.24,30.40 v7.20" stroke-width="1.3"/>
<path d="M514.26,499.60 v-7.20 M514.26,30.40 v7.20" stroke-width="1.3"/>
<path d="M649.28,499.60 v-7.20 M649.28,30.40 v7.20" stroke-width="1.3"/>
</g>
<text x="94.7" y="506.60" font-size="24.5" text-anchor="end">0</text>
<text x="94.7" y="428.40" font-size="24.5" text-anchor="end">2</text>
<text x="94.7" y="350.20" font-size="24.5" text-anchor="end">4</text>
<text x="94.7" y="272.00" font-size="24.5" text-anchor="end">6</text>
<text x="94.7" y="193.80" font-size="24.5" text-anchor="end">8</text>
<text x="95.5" y="115.60" font-size="24.5" text-anchor="end" letter-spacing="0.8">10</text>
<text x="95.5" y="37.40" font-size="24.5" text-anchor="end" letter-spacing="0.8">12</text>
<text x="113.10" y="531.6" font-size="24.5" text-anchor="middle">0</text>
<text x="248.32" y="531.6" font-size="24.5" text-anchor="middle" letter-spacing="0.6">0.1</text>
<text x="383.34" y="531.6" font-size="24.5" text-anchor="middle" letter-spacing="0.6">0.2</text>
<text x="518.36" y="531.6" font-size="24.5" text-anchor="middle" letter-spacing="0.6">0.3</text>
<text x="653.38" y="531.6" font-size="24.5" text-anchor="middle" letter-spacing="0.6">0.4</text>
<text x="788.40" y="531.6" font-size="24.5" text-anchor="middle" letter-spacing="0.6">0.5</text>
<g transform="translate(445.0,569.7) scale(1.22,1.02)"><text x="0" y="0" font-size="24.5" font-style="italic" class="it" text-anchor="middle">T</text></g>
<g transform="translate(26.2,265) rotate(-90)">
<path d="M-42.5,-18.5 V6.5 M42.4,-18.5 V6.5 M-7.0,6.5 L5.0,-18.5" stroke="#000" stroke-width="1.1" fill="none"/>
<text x="-33.6" y="0" font-size="24.5" font-style="italic" class="it" text-anchor="middle">d</text>
<g transform="translate(-18,0) scale(1.08,1)"><text x="0" y="0" font-size="24.5" font-style="italic" class="it" text-anchor="middle">X</text></g>
<text x="12.7" y="0" font-size="24.5" font-style="italic" class="it" text-anchor="middle">d</text>
<g transform="translate(28.1,0) scale(1.22,1)"><text x="0" y="0" font-size="24.5" font-style="italic" class="it" text-anchor="middle">T</text></g>
</g>
</svg></body></html>
